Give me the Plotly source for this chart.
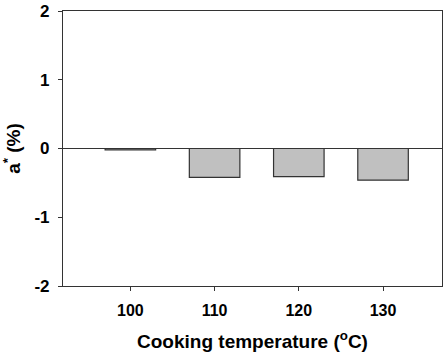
import plotly.graph_objects as go

temperatures = [100, 110, 120, 130]
a_star_values = [-0.02, -0.42, -0.41, -0.46]
y_ticks = [-2, -1, 0, 1, 2]

fig = go.Figure()
fig.add_trace(go.Bar(
    x=temperatures, y=a_star_values, width=6,
    marker=dict(color="#c0c0c0", line=dict(color="#333333", width=1.2)),
))

font = dict(family="Liberation Sans, Arial, sans-serif", color="black")
fig.update_layout(
    width=446, height=356,
    margin=dict(l=63, r=4, t=11, b=70),
    paper_bgcolor="white", plot_bgcolor="white",
    showlegend=False,
    font=font,
    xaxis=dict(
        range=[92, 137], tickvals=temperatures,
        ticktext=[f"<b>{t}</b>" for t in temperatures],
        ticks="outside", ticklen=4, tickcolor="#333333", tickwidth=1,
        showline=True, linecolor="#333333", linewidth=1.2, mirror=True,
        showgrid=False, zeroline=False, automargin=False,
        ticklabelstandoff=6,
        tickfont=dict(size=16, **font),
        title=dict(text="<b>Cooking temperature (<sup>o</sup>C)</b>", font=dict(size=19, **font), standoff=16),
    ),
    yaxis=dict(
        range=[-2, 2], tickvals=y_ticks,
        ticktext=[f"<b>{v}</b>" for v in y_ticks],
        ticks="outside", ticklen=4, tickcolor="#333333", tickwidth=1,
        showline=True, linecolor="#333333", linewidth=1.2, mirror=True,
        showgrid=False, zeroline=True, zerolinecolor="#333333", zerolinewidth=1.2,
        automargin=False, ticklabelstandoff=5,
        tickfont=dict(size=17, **font),
        title=dict(text="<b>a<sup>*</sup> (%)</b>", font=dict(size=19, **font), standoff=14),
    ),
)
fig.write_html("out.html", config={"displayModeBar": False},
               post_script="document.body.style.margin='0';")
